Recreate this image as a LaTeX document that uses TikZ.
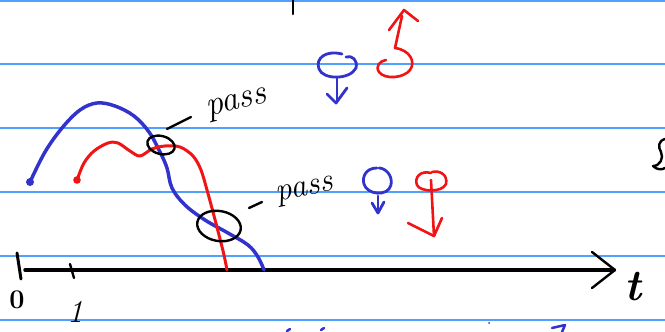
\documentclass[tikz,border=0pt]{standalone}
\usepackage{fontspec}
\definecolor{rule}{RGB}{80,160,255}
\definecolor{penblue}{RGB}{50,50,205}
\definecolor{penred}{RGB}{240,20,20}
\tikzset{
    bluepen/.style={penblue,line width=3.5pt,line cap=round,line join=round},
    redpen/.style={penred,line width=3pt,line cap=round,line join=round},
    blackpen/.style={black,line width=2.4pt,line cap=round,line join=round},
    hand/.style={inner sep=0pt}
}
\begin{document}
\begin{tikzpicture}[x=1pt,y=-1pt]
    \useasboundingbox (0,0) rectangle (665,332);
    % ruled paper
    \foreach \y in {1,64,128,192,256,320}
        \draw[rule,line width=1.4pt] (0,\y) -- (665,\y);
    \draw[blackpen,line width=2.5pt] (293,0) -- (293,14);
    % time axis
    \draw[black,line width=3.5pt,line cap=round] (25,270) -- (614,270);
    \draw[blackpen] (592,252) -- (615,270) -- (592,288);
    \draw[blackpen,line width=3pt] (17,253) -- (21,279);
    \draw[blackpen] (70,264) -- (74,278);
    \node[hand,font=\fontsize{27}{29}\selectfont\bfseries] (zero) at (17,300) {0};
    \node[hand,font=\itshape\fontsize{32}{34}\selectfont] (one) at (75,312) {1};
    \node[hand,font=\itshape\bfseries\fontsize{44}{46}\selectfont,anchor=west] (tlabel) at (624,287) {t};
    % blue trajectory
    \draw[bluepen] plot[smooth,tension=0.6] coordinates {(30,182) (45,152) (62,128) (80,110) (97,103) (115,106) (134,116) (149,132) (160,152) (167,168) (172,188) (185,205) (205,220) (228,233) (248,245) (258,257) (264,270)};
    \fill[penblue] (30,182) circle (4pt);
    % red trajectory
    \draw[redpen] plot[smooth,tension=0.55] coordinates {(77,180) (84,163) (94,151) (108,143) (118,143) (130,151) (140,156) (152,149) (165,146) (180,147) (193,156) (201,170) (207,190) (213,212) (219,235) (224,255) (227,270)};
    \fill[penred] (77,180) circle (3.8pt);
    % crossings
    \draw[blackpen] (161,145) ellipse [x radius=14,y radius=9,rotate=-15];
    \draw[blackpen] (219,226) ellipse [x radius=22,y radius=15,rotate=-10];
    \draw[blackpen] (167,129) -- (191,117);
    \node[hand,font=\itshape\fontsize{35}{37}\selectfont,rotate=14] (pass1) at (237,105) {pass};
    \draw[blackpen] (249,208) -- (262,202);
    \node[hand,font=\itshape\fontsize{33}{35}\selectfont,rotate=12] (pass2) at (305,192) {pass};
    % blue spin, upper
    \draw[bluepen,line width=2.8pt] (342,54) .. controls (326,50) and (315,58) .. (319,69)
        .. controls (323,80) and (350,80) .. (356,68) .. controls (358,60) and (352,55) .. (346,57);
    \draw[bluepen,line width=2.8pt] (337,78) -- (337,102);
    \draw[bluepen,line width=2.8pt] (327,94) -- (336,103) -- (347,88);
    % red spin, upper
    \draw[redpen,line width=2.6pt] (395,48) .. controls (410,50) and (416,62) .. (410,70)
        .. controls (404,78) and (385,80) .. (379,72) .. controls (375,66) and (380,61) .. (386,60);
    \draw[redpen,line width=2.6pt] (395,48) -- (402,16);
    \draw[redpen,line width=2.6pt] (389,30) -- (404,10) -- (418,21);
    % blue spin, lower
    \draw[bluepen,line width=2.8pt] (377,168) .. controls (365,168) and (362,178) .. (364,184)
        .. controls (367,195) and (388,197) .. (391,185) .. controls (393,175) and (385,168) .. (379,168);
    \draw[bluepen,line width=2.8pt] (378,196) -- (378,212);
    \draw[bluepen,line width=2.8pt] (372,203) -- (378,213) -- (384,202);
    % red spin, lower
    \draw[redpen,line width=2.6pt] (431,173) .. controls (420,170) and (414,178) .. (417,185)
        .. controls (420,192) and (442,193) .. (446,184) .. controls (448,175) and (440,170) .. (432,172);
    \draw[redpen,line width=2.6pt] (431,180) -- (434,236);
    \draw[redpen,line width=2.6pt] (408,223) -- (434,236) -- (442,218);
    % marks at the edges
    \draw[blackpen] (665,139) .. controls (658,141) and (658,147) .. (661,152)
        .. controls (664,158) and (660,166) .. (653,166) .. controls (657,170) and (662,170) .. (665,168);
    \draw[bluepen,line width=2.5pt] (287,331) -- (290,329);
    \draw[bluepen,line width=2.5pt] (321,330) -- (324,328);
    \fill[penblue] (489,323) circle (1pt);
    \draw[bluepen,line width=2.5pt] (552,328) -- (565,325) -- (562,332);
\end{tikzpicture}
\end{document}
